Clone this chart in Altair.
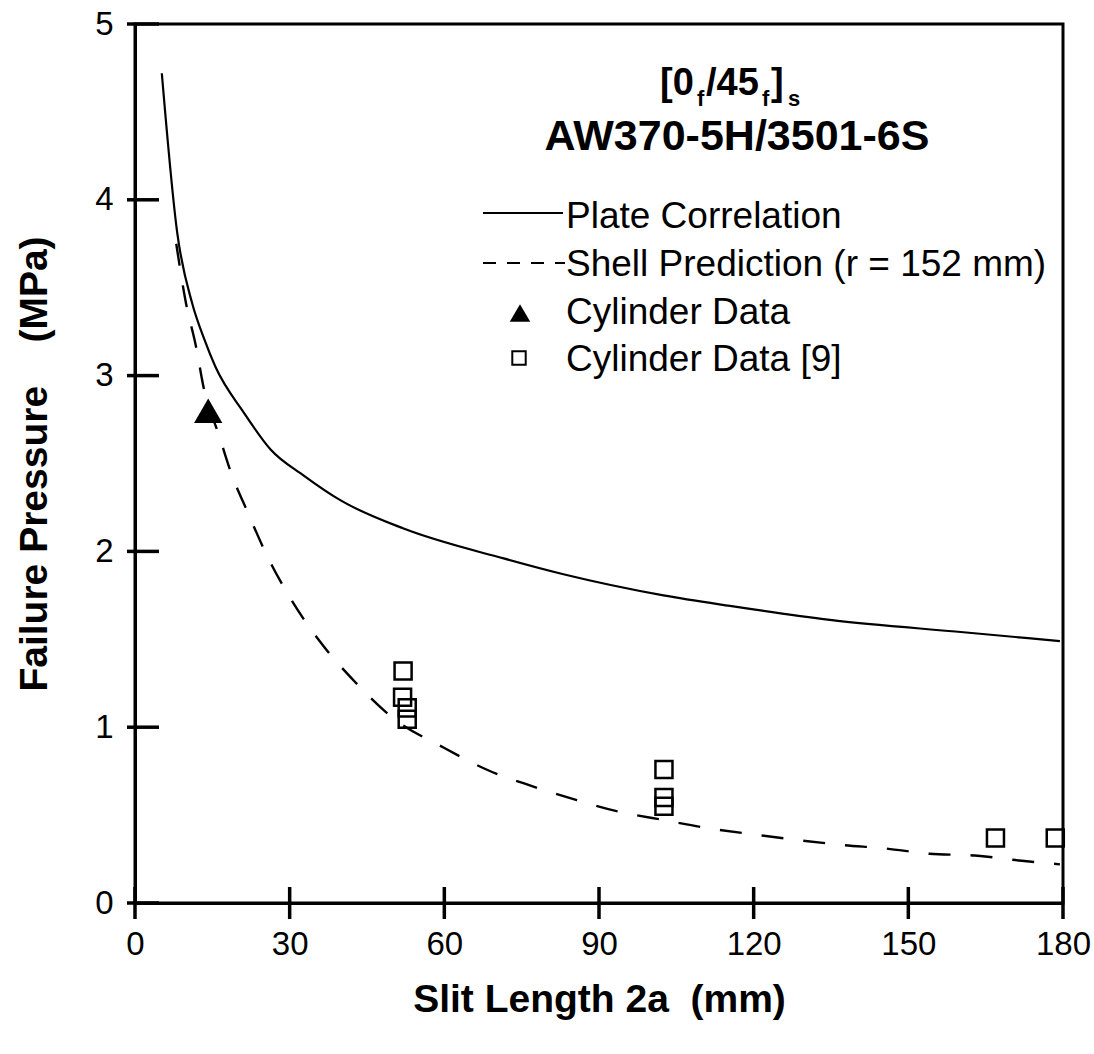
import altair as alt
import pandas as pd

# ---- data ----
plate_x = [5.2, 8.2, 11.1, 13.4, 15.6, 21.1, 26.3, 32.8, 39.9, 52.1, 71.5, 83.1, 102.5, 115.4, 134.8, 160.7, 179.4]
plate_y = [4.72, 3.81, 3.41, 3.21, 3.05, 2.79, 2.58, 2.43, 2.29, 2.13, 1.96, 1.87, 1.75, 1.69, 1.61, 1.54, 1.49]

shell_x = [8.0, 9.9, 11.8, 13.4, 16.3, 18.6, 21.9, 25.7, 30.0, 35.8, 42.6, 49.7, 60.1, 68.5, 77.0, 85.7,
           93.8, 102.9, 111.3, 120.0, 128.0, 137.3, 145.7, 154.1, 162.9, 172.0, 179.4]
shell_y = [3.75, 3.41, 3.17, 2.92, 2.66, 2.45, 2.22, 1.97, 1.74, 1.49, 1.26, 1.06, 0.88, 0.755, 0.665, 0.585,
           0.52, 0.47, 0.425, 0.39, 0.36, 0.33, 0.31, 0.28, 0.27, 0.24, 0.22]

cyl_x = [14.2]
cyl_y = [2.80]

cyl9_x = [52.0, 51.9, 52.8, 52.8, 102.6, 102.6, 102.6, 166.9, 178.5]
cyl9_y = [1.32, 1.17, 1.11, 1.045, 0.76, 0.60, 0.55, 0.37, 0.37]

x_ticks = [0, 30, 60, 90, 120, 150, 180]
y_ticks = [0, 1, 2, 3, 4, 5]

legend_labels = ["Plate Correlation", "Shell Prediction (r = 152 mm)", "Cylinder Data", "Cylinder Data [9]"]
title_line2 = "AW370-5H/3501-6S"
# pieces of "[0f/45f]s" : (text, is_subscript)
title_line1 = [("[0", False), ("f", True), ("/45", False), ("f", True), ("]", False), ("s", True)]

W, H = 928, 879
OX, OY = 135, 24
FONT = "Liberation Sans"

xs = alt.Scale(domain=[0, 180], nice=False, zero=False)
ys = alt.Scale(domain=[0, 5], nice=False, zero=False)

plate_df = pd.DataFrame({"x": plate_x, "y": plate_y})
shell_df = pd.DataFrame({"x": shell_x, "y": shell_y})
cyl_df = pd.DataFrame({"x": cyl_x, "y": cyl_y})
cyl9_df = pd.DataFrame({"x": cyl9_x, "y": cyl9_y})

x_axis = alt.Axis(values=x_ticks, ticks=False, grid=False, labelFontSize=33, labelFont=FONT,
                  labelPadding=25, labelColor="black", domainColor="black", domainWidth=3, format="d",
                  title="Slit Length 2a\u00a0\u00a0(mm)", titleFont=FONT, titleFontSize=39,
                  titleFontWeight="bold", titleColor="black", titlePadding=19, labelFlush=False)
y_axis = alt.Axis(values=y_ticks, ticks=False, grid=False, labelFontSize=33, labelFont=FONT,
                  labelPadding=22, labelColor="black", domainColor="black", domainWidth=3, format="d",
                  title="Failure Pressure\u00a0\u00a0\u00a0\u00a0(MPa)", titleFont=FONT, titleFontSize=39,
                  titleFontWeight="bold", titleColor="black", titlePadding=40, labelFlush=False)

plate = alt.Chart(plate_df).mark_line(color="black", strokeWidth=2.2, interpolate="monotone").encode(
    x=alt.X("x:Q", scale=xs, axis=x_axis),
    y=alt.Y("y:Q", scale=ys, axis=y_axis),
)
shell = alt.Chart(shell_df).mark_line(color="black", strokeWidth=2.4, strokeDash=[22, 20],
                                      interpolate="monotone").encode(
    x=alt.X("x:Q", scale=xs), y=alt.Y("y:Q", scale=ys))
cyl = alt.Chart(cyl_df).mark_point(shape="triangle-up", filled=True, color="black", size=800, opacity=1).encode(
    x=alt.X("x:Q", scale=xs), y=alt.Y("y:Q", scale=ys))
cyl9 = alt.Chart(cyl9_df).mark_point(shape="square", filled=False, color="black", size=290,
                                     strokeWidth=2.5, opacity=1).encode(
    x=alt.X("x:Q", scale=xs), y=alt.Y("y:Q", scale=ys))

xt = alt.Chart(pd.DataFrame({"t": x_ticks})).mark_rule(color="black", strokeWidth=3.5).encode(
    x=alt.X("t:Q", scale=xs), y=alt.value(H - 16), y2=alt.value(H + 16))
yt = alt.Chart(pd.DataFrame({"t": y_ticks})).mark_rule(color="black", strokeWidth=3.5).encode(
    y=alt.Y("t:Q", scale=ys), x=alt.value(-8), x2=alt.value(24))

# ---- legend / annotation (pixel layout, page coordinates minus origin) ----
leg_base = [228, 276, 324, 371]          # text baselines
line_y = [213, 263]
line_x0, line_x1, text_x = 483, 563, 566

one = pd.DataFrame({"a": [0]})
leg_plate = alt.Chart(one).mark_rule(color="black", strokeWidth=2).encode(
    x=alt.value(line_x0 - OX), x2=alt.value(line_x1 - OX), y=alt.value(line_y[0] - OY))
leg_shell = alt.Chart(one).mark_rule(color="black", strokeWidth=2, strokeDash=[13, 11]).encode(
    x=alt.value(line_x0 - OX), x2=alt.value(line_x1 + 2 - OX), y=alt.value(line_y[1] - OY))
leg_tri = alt.Chart(one).mark_point(shape="triangle-up", filled=True, color="black", size=420, opacity=1).encode(
    x=alt.value(520 - OX), y=alt.value(313 - OY))
leg_sq = alt.Chart(one).mark_point(shape="square", filled=False, color="black", size=180, strokeWidth=2,
                                   opacity=1).encode(
    x=alt.value(519 - OX), y=alt.value(358 - OY))

leg_text = alt.Chart(pd.DataFrame({"label": legend_labels,
                                   "py": [b - OY for b in leg_base]})).mark_text(
    align="left", baseline="alphabetic", font=FONT, fontSize=37, color="black").encode(
    x=alt.value(text_x - OX), y=alt.Y("py:Q", scale=None), text="label:N")

# title line 1 from pieces
SHIFT = 14
big, small = 38, 22
piece_x = [646, 683, 692, 748, 757, 774]
piece_base = [95 if not sub else 106 for _, sub in title_line1]
title_df = pd.DataFrame({
    "s": [p[0] for p in title_line1],
    "px": [x + SHIFT - OX for x in piece_x],
    "py": [b - OY for b in piece_base],
})
title_layers = []
for i, (txt, sub) in enumerate(title_line1):
    title_layers.append(
        alt.Chart(title_df.iloc[[i]]).mark_text(align="left", baseline="alphabetic", font=FONT,
                                                 fontWeight="bold", fontSize=small if sub else big,
                                                 color="black").encode(
            x=alt.X("px:Q", scale=None), y=alt.Y("py:Q", scale=None), text="s:N"))

title2 = alt.Chart(pd.DataFrame({"t": [title_line2]})).mark_text(
    align="center", baseline="alphabetic", font=FONT, fontWeight="bold", fontSize=43, color="black").encode(
    x=alt.value(723 + SHIFT - OX), y=alt.value(150 - OY), text="t:N")

chart = alt.layer(
    plate, shell, cyl9, cyl, xt, yt,
    leg_plate, leg_shell, leg_tri, leg_sq, leg_text, title2, *title_layers
).properties(
    width=W, height=H,
    autosize=alt.AutoSizeParams(type="none"),
    padding={"left": OX, "top": OY, "right": 1094 - OX - W, "bottom": 1054 - OY - H},
    background="white",
).configure_view(stroke="black", strokeWidth=3)

chart.save("out.html", embed_options={"renderer": "svg", "actions": False})
